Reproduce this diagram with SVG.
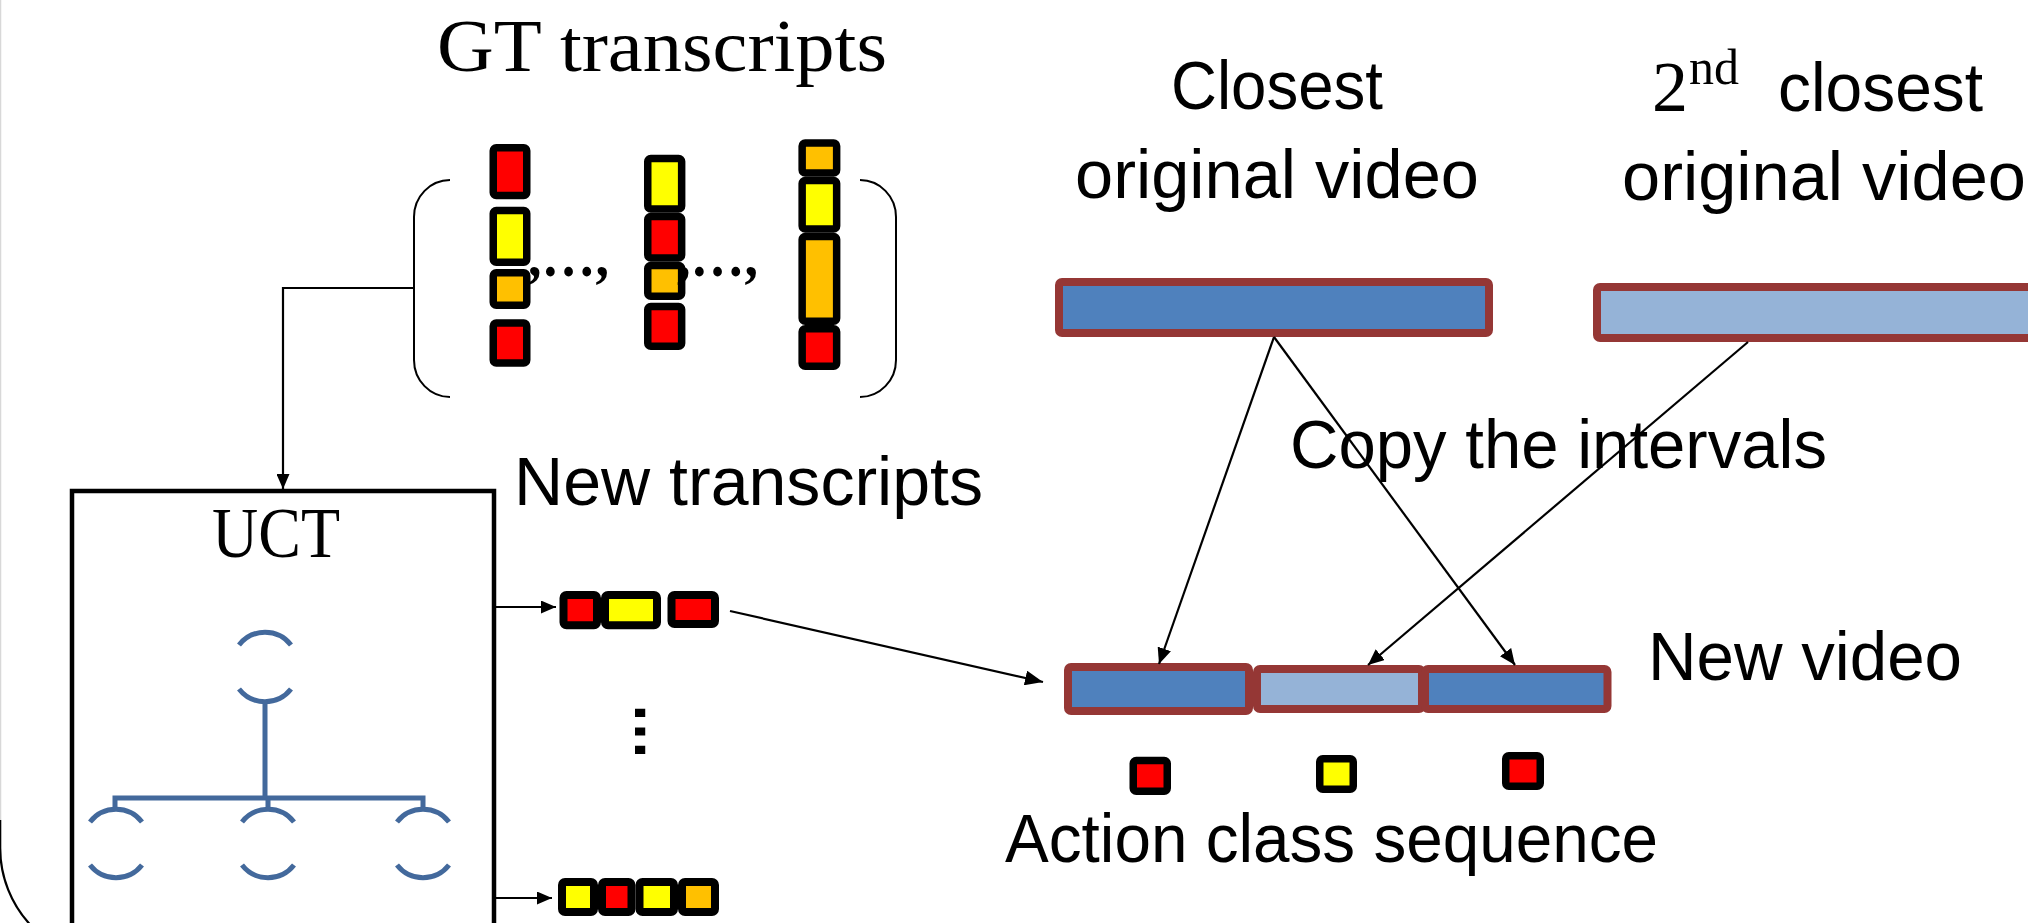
<svg xmlns="http://www.w3.org/2000/svg" width="2028" height="923" viewBox="0 0 2028 923">
<style>
  .sans { font-family: "Liberation Sans", Arial, sans-serif; font-size: 68px; fill: #000; }
  .serif { font-family: "Liberation Serif", "Times New Roman", serif; fill: #000; }
  .blk { stroke: #000; stroke-width: 7.5; stroke-linejoin: round; }
  .red { fill: #FF0000; }
  .yel { fill: #FFFF00; }
  .org { fill: #FFC000; }
  .vid { stroke: #953735; stroke-width: 8; stroke-linejoin: round; }
  .dark { fill: #4F81BD; }
  .light { fill: #95B3D7; }
  .tree { fill: none; stroke: #43699C; stroke-width: 5; }
  .con { fill: none; stroke: #000; stroke-width: 2.2; }
</style>
<defs>
  <marker id="ah" viewBox="0 0 16 14" refX="16" refY="7" markerWidth="16" markerHeight="14" markerUnits="userSpaceOnUse" orient="auto">
    <path d="M0,0 L16,7 L0,14 z" fill="#000"/>
  </marker>
  <marker id="ahs" viewBox="0 0 15 13" refX="15" refY="6.5" markerWidth="15" markerHeight="13" markerUnits="userSpaceOnUse" orient="auto">
    <path d="M0,0 L15,6.5 L0,13 z" fill="#000"/>
  </marker>
  <marker id="ahl" viewBox="0 0 18 15" refX="18" refY="7.5" markerWidth="18" markerHeight="15" markerUnits="userSpaceOnUse" orient="auto">
    <path d="M0,0 L18,7.5 L0,15 z" fill="#000"/>
  </marker>
</defs>
<rect width="2028" height="923" fill="#fff"/>

<!-- outer frame -->
<g id="frame">
  <path d="M0.5,-10 L0.5,820" fill="none" stroke="#d8d8d8" stroke-width="1.5"/>
  <path d="M0.2,820 L0.2,848 A113,113 0 0 0 113.2,961" fill="none" stroke="#000" stroke-width="2.2"/>
</g>

<!-- titles -->
<g id="title-gt"><text class="serif" x="662" y="71" font-size="74" text-anchor="middle" textLength="450" lengthAdjust="spacingAndGlyphs">GT transcripts</text></g>
<g id="title-closest">
  <text class="sans" x="1277" y="109" text-anchor="middle" textLength="212" lengthAdjust="spacingAndGlyphs">Closest</text>
  <text class="sans" x="1277" y="198" text-anchor="middle" textLength="404" lengthAdjust="spacingAndGlyphs">original video</text>
</g>
<g id="title-second">
  <text x="1652" y="111"><tspan class="serif" font-size="72">2</tspan></text>
  <text x="1689" y="84"><tspan class="serif" font-size="50">nd</tspan></text>
  <text class="sans" x="1778" y="111" textLength="205" lengthAdjust="spacingAndGlyphs">closest</text>
  <text class="sans" x="1622" y="200" textLength="404" lengthAdjust="spacingAndGlyphs">original video</text>
</g>

<!-- GT transcripts set -->
<g id="gt-transcripts">
  <path d="M450,180 A36,37 0 0 0 414,217 L414,360 A36,37 0 0 0 450,397" fill="none" stroke="#000" stroke-width="2"/>
  <path d="M860,180 A36,37 0 0 1 896,217 L896,360 A36,37 0 0 1 860,397" fill="none" stroke="#000" stroke-width="2"/>
  <g class="blk">
    <rect class="red" x="493.25" y="147.75" width="33.5" height="47.8" rx="3"/>
    <rect class="yel" x="493.25" y="210.45" width="33.5" height="51.8" rx="3"/>
    <rect class="org" x="493.25" y="272.75" width="33.5" height="32.5" rx="3"/>
    <rect class="red" x="493.25" y="323" width="33.5" height="39.9" rx="3"/>

    <rect class="yel" x="647.75" y="158.45" width="33.9" height="50.5" rx="3"/>
    <rect class="red" x="647.75" y="216.45" width="33.9" height="41.5" rx="3"/>
    <rect class="org" x="647.75" y="265.45" width="33.9" height="30.8" rx="3"/>
    <rect class="red" x="647.75" y="306.45" width="33.9" height="39.8" rx="3"/>

    <rect class="org" x="802.15" y="143" width="34.5" height="30" rx="3"/>
    <rect class="yel" x="802.15" y="180.45" width="34.5" height="48.5" rx="3"/>
    <rect class="org" x="802.15" y="236.45" width="34.5" height="84.8" rx="3"/>
    <rect class="red" x="802.15" y="328.75" width="34.5" height="37.5" rx="3"/>
  </g>
  <text class="serif" x="528" y="276" font-size="60" font-weight="bold" textLength="81" lengthAdjust="spacingAndGlyphs">,…,</text>
  <text class="serif" x="677" y="276" font-size="60" font-weight="bold" textLength="81" lengthAdjust="spacingAndGlyphs">,…,</text>
</g>

<!-- UCT box -->
<g id="uct">
  <rect x="72" y="491" width="422" height="460" fill="none" stroke="#000" stroke-width="4.5"/>
  <text class="serif" x="276" y="557" font-size="72" text-anchor="middle" textLength="128" lengthAdjust="spacingAndGlyphs">UCT</text>
  <g class="tree">
    <path d="M239,645 A33,33 0 0 1 291,645"/>
    <path d="M239,689 A33,33 0 0 0 291,689"/>
    <path d="M265,700 V798 M115,810 V798 H423 V810 M268,798 V810"/>
    <path d="M90,822 A33,33 0 0 1 142,822"/>
    <path d="M90,865 A33,33 0 0 0 142,865"/>
    <path d="M242,822 A33,33 0 0 1 294,822"/>
    <path d="M242,865 A33,33 0 0 0 294,865"/>
    <path d="M397,822 A33,33 0 0 1 449,822"/>
    <path d="M397,865 A33,33 0 0 0 449,865"/>
  </g>
</g>

<!-- New transcripts -->
<g id="new-transcripts">
  <text class="sans" x="514" y="505" textLength="469" lengthAdjust="spacingAndGlyphs">New transcripts</text>
  <g class="blk" style="stroke-width:8">
    <rect class="red" x="563.5" y="595" width="33.5" height="30.3" rx="3"/>
    <rect class="yel" x="605" y="595" width="52" height="30.3" rx="3"/>
    <rect class="red" x="671.5" y="595" width="43.5" height="29" rx="3"/>

    <rect class="yel" x="562" y="882" width="32" height="30" rx="3"/>
    <rect class="red" x="602" y="882" width="29.5" height="30" rx="3"/>
    <rect class="yel" x="639.5" y="882" width="34.5" height="30" rx="3"/>
    <rect class="org" x="682" y="882" width="33" height="30" rx="3"/>
  </g>
  <text class="sans" font-weight="bold" font-size="66" text-anchor="middle" x="0" y="4" textLength="58" lengthAdjust="spacingAndGlyphs" transform="translate(639,731.5) rotate(90)">…</text>
</g>

<!-- Videos -->
<g id="closest-video">
  <rect class="vid dark" x="1059" y="282" width="430" height="51" rx="3"/>
</g>
<g id="second-video">
  <rect class="vid light" x="1597" y="287" width="500" height="51" rx="3"/>
</g>
<g id="copy-label">
  <text class="sans" x="1290" y="468" textLength="537" lengthAdjust="spacingAndGlyphs">Copy the intervals</text>
</g>
<g id="new-video">
  <rect class="vid dark" x="1068" y="667" width="181" height="44" rx="3"/>
  <rect class="vid light" x="1257" y="669" width="165" height="40" rx="3"/>
  <rect class="vid dark" x="1425" y="669" width="182.5" height="40" rx="3"/>
  <text class="sans" x="1648" y="680" textLength="314" lengthAdjust="spacingAndGlyphs">New video</text>
</g>
<g id="action-sequence">
  <g class="blk">
    <rect class="red" x="1133.25" y="760.45" width="34" height="30.8" rx="3"/>
    <rect class="yel" x="1319.75" y="758.75" width="33.5" height="30.5" rx="3"/>
    <rect class="red" x="1505.75" y="755.75" width="34.5" height="30.5" rx="3"/>
  </g>
  <text class="sans" x="1005" y="862" textLength="653" lengthAdjust="spacingAndGlyphs">Action class sequence</text>
</g>

<!-- connectors -->
<g id="connectors">
  <path class="con" d="M414,288 H283 V489" marker-end="url(#ahs)"/>
  <path class="con" d="M496,607 H556" marker-end="url(#ahs)"/>
  <path class="con" d="M496,898 H552" marker-end="url(#ahs)"/>
  <path class="con" d="M730,611 L1043,682" marker-end="url(#ahl)"/>
  <path class="con" d="M1274,337 L1159,664" marker-end="url(#ah)"/>
  <path class="con" d="M1274,337 L1515,665" marker-end="url(#ah)"/>
  <path class="con" d="M1748,342 L1368,665" marker-end="url(#ah)"/>
</g>
</svg>
